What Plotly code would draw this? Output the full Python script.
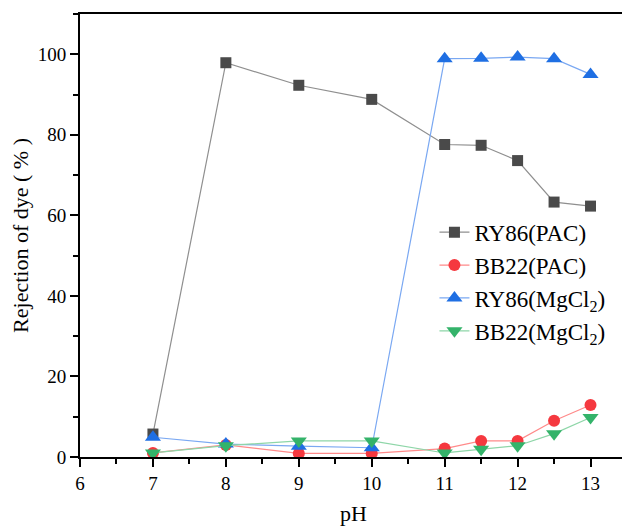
import plotly.graph_objects as go

ph = [7, 8, 9, 10, 11, 11.5, 12, 12.5, 13]
ry86_pac = [5.7, 97.9, 92.3, 88.8, 77.6, 77.4, 73.6, 63.3, 62.3]
bb22_pac = [1.0, 3.0, 0.9, 0.9, 2.1, 4.0, 4.0, 9.0, 12.9]
ry86_mgcl2 = [4.9, 3.2, 2.7, 2.3, 98.9, 99.0, 99.3, 98.9, 95.0]
bb22_mgcl2 = [1.0, 2.8, 4.0, 4.0, 1.0, 1.9, 2.8, 5.8, 9.8]

series = [
    ("RY86(PAC)", ry86_pac, "#4a4a4a", "#8f8f8f", "square", 11),
    ("BB22(PAC)", bb22_pac, "#f5383f", "#ff8a8a", "circle", 12),
    ("RY86(MgCl<sub>2</sub>)", ry86_mgcl2, "#1f6fe3", "#7aa8f2", "triangle-up", 14),
    ("BB22(MgCl<sub>2</sub>)", bb22_mgcl2, "#34b36a", "#8ed6a8", "triangle-down", 14),
]

fig = go.Figure()
for name, ys, mc, lc, sym, sz in series:
    fig.add_trace(go.Scatter(
        x=ph, y=ys, name=name, mode="lines+markers",
        line=dict(color=lc, width=1.2),
        marker=dict(color=mc, symbol=sym, size=sz, line=dict(width=0)),
    ))

font = "Liberation Serif, Times New Roman, serif"
fig.update_layout(
    width=622, height=519,
    margin=dict(l=72, r=1, t=6, b=70),
    paper_bgcolor="white", plot_bgcolor="white",
    font=dict(family=font, size=19, color="black"),
    showlegend=True,
    legend=dict(x=0.648, y=0.556, xanchor="left", yanchor="top",
                font=dict(family=font, size=23, color="black"),
                bgcolor="rgba(0,0,0,0)", tracegroupgap=0),
    xaxis=dict(
        range=[6, 13.5], dtick=1, tick0=6,
        showgrid=False, zeroline=False,
        showline=True, linecolor="black", linewidth=2, mirror=True,
        ticks="outside", ticklen=8, tickwidth=1.5, tickcolor="black",
        minor=dict(dtick=0.5, ticks="outside", ticklen=5, tickwidth=1.5, tickcolor="black"),
        title=dict(text="pH", font=dict(family=font, size=22), standoff=13),
        tickfont=dict(family=font, size=19),
    ),
    yaxis=dict(
        range=[0, 110], dtick=20, tick0=0,
        showgrid=False, zeroline=False,
        showline=True, linecolor="black", linewidth=2, mirror=True,
        ticks="outside", ticklen=8, tickwidth=1.5, tickcolor="black",
        minor=dict(dtick=10, ticks="outside", ticklen=5, tickwidth=1.5, tickcolor="black"),
        title=dict(text="Rejection of dye ( % )", font=dict(family=font, size=22), standoff=6),
        tickfont=dict(family=font, size=19),
    ),
)

fig.write_html("out.html")
